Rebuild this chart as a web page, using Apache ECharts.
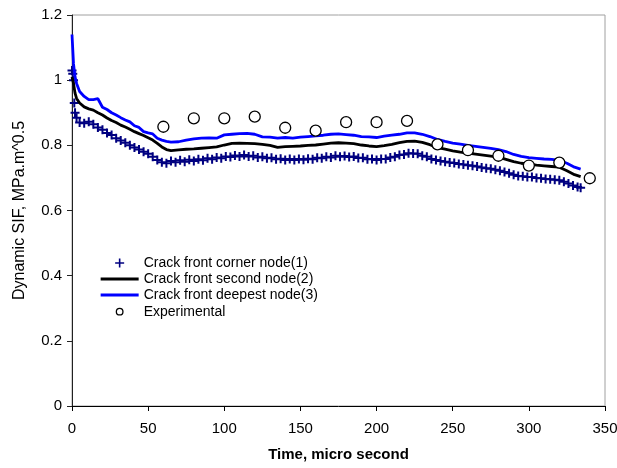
<!DOCTYPE html>
<html>
<head>
<meta charset="utf-8">
<script src="https://cdn.jsdelivr.net/npm/echarts@6/dist/echarts.min.js"></script>
<style>
  html, body { margin: 0; padding: 0; background: #fff; }
  #chart { width: 617px; height: 468px; }
</style>
</head>
<body>
<div id="chart"></div>
<script>
// corner node (1), plus markers
const timeCorner = [0, 0.5, 1, 1.5, 2, 3, 5, 8, 11, 14, 17, 20, 23, 26, 29, 32, 35, 38, 41, 44, 47, 50, 53, 56, 59,
  62, 65, 68, 71, 74, 77, 80, 83, 86, 89, 92, 95, 98, 101, 104, 107, 110, 113, 116, 119, 122, 125, 128, 131, 134,
  137, 140, 143, 146, 149, 152, 155, 158, 161, 164, 167, 170, 173, 176, 179, 182, 185, 188, 191, 194, 197, 200,
  203, 206, 209, 212, 215, 218, 221, 224, 227, 230, 233, 236, 239, 242, 245, 248, 251, 254, 257, 260, 263, 266,
  269, 272, 275, 278, 281, 284, 287, 290, 293, 296, 299, 302, 305, 308, 311, 314, 317, 320, 323, 326, 329, 332, 334]
const sifCorner = [1.03, 1.02, 1.0, 0.93, 0.90, 0.885, 0.87, 0.868, 0.872, 0.865, 0.855, 0.848, 0.838, 0.832, 0.822,
  0.815, 0.808, 0.800, 0.793, 0.787, 0.780, 0.774, 0.765, 0.755, 0.748,
  0.745, 0.752, 0.748, 0.754, 0.750, 0.756, 0.752, 0.757, 0.754, 0.760, 0.757, 0.763, 0.760, 0.766, 0.764, 0.769,
  0.766, 0.770, 0.766, 0.768, 0.763, 0.765, 0.760, 0.762, 0.757,
  0.759, 0.755, 0.758, 0.755, 0.758, 0.756, 0.759, 0.757, 0.762, 0.760, 0.765, 0.763, 0.768, 0.765, 0.767, 0.764,
  0.766, 0.761, 0.762, 0.757, 0.758, 0.755,
  0.758, 0.758, 0.763, 0.765, 0.770, 0.772, 0.776, 0.775, 0.774, 0.768, 0.765, 0.758, 0.755, 0.752, 0.750, 0.747,
  0.746, 0.743, 0.741, 0.739, 0.737, 0.735,
  0.732, 0.730, 0.728, 0.725, 0.722, 0.718, 0.714, 0.710, 0.706, 0.705, 0.703, 0.703, 0.700, 0.699, 0.697, 0.696,
  0.694, 0.693, 0.688, 0.683, 0.677, 0.672, 0.670]

// second node (2) and deepest node (3), lines
const timeLine = [0, 1, 2, 3, 5, 8, 11, 14, 17, 20, 23, 26, 29, 32, 35, 38, 41, 44, 47, 50, 53, 56, 59, 62, 65,
  70, 75, 80, 85, 90, 95, 100, 105, 110, 115, 120, 125, 130, 135, 140, 145, 150, 155, 160, 165, 170, 175, 180,
  185, 190, 195, 200, 205, 210, 215, 220, 225, 230, 235, 240, 245, 250, 255, 260, 265, 270, 275, 280, 285, 290,
  295, 300, 305, 310, 315, 320, 325, 330, 334]
const sifSecond = [1.01, 0.99, 0.96, 0.944, 0.93, 0.918, 0.912, 0.908, 0.9, 0.893, 0.884, 0.876, 0.87, 0.862, 0.856,
  0.849, 0.842, 0.836, 0.83, 0.823, 0.816, 0.806, 0.795, 0.787, 0.784,
  0.786, 0.788, 0.789, 0.791, 0.793, 0.795, 0.801, 0.806, 0.807, 0.806, 0.805, 0.803, 0.800, 0.794, 0.796, 0.797,
  0.798, 0.800, 0.801, 0.804, 0.807, 0.808, 0.807, 0.805, 0.801, 0.798, 0.796, 0.799, 0.803, 0.808, 0.812, 0.813,
  0.809, 0.802, 0.793, 0.788, 0.783, 0.779, 0.776, 0.773, 0.770, 0.767, 0.764, 0.757, 0.750, 0.745, 0.742, 0.739,
  0.737, 0.735, 0.733, 0.722, 0.710, 0.704]
const sifDeepest = [1.14, 1.05, 1.01, 0.99, 0.965, 0.95, 0.94, 0.94, 0.943, 0.917, 0.91, 0.90, 0.893, 0.885, 0.878,
  0.872, 0.86, 0.855, 0.842, 0.838, 0.835, 0.822, 0.816, 0.812, 0.810,
  0.811, 0.816, 0.820, 0.822, 0.823, 0.822, 0.832, 0.834, 0.836, 0.837, 0.834, 0.826, 0.825, 0.822, 0.824, 0.822,
  0.825, 0.827, 0.829, 0.831, 0.834, 0.835, 0.833, 0.831, 0.827, 0.826, 0.824, 0.828, 0.831, 0.834, 0.838, 0.838,
  0.834, 0.827, 0.818, 0.812, 0.807, 0.804, 0.800, 0.797, 0.794, 0.791, 0.787, 0.781, 0.772, 0.766, 0.762, 0.760,
  0.758, 0.757, 0.754, 0.745, 0.733, 0.727]

// experimental
const timeExp = [60, 80, 100, 120, 140, 160, 180, 200, 220, 240, 260, 280, 300, 320, 340]
const sifExp = [0.857, 0.883, 0.883, 0.888, 0.854, 0.845, 0.871, 0.871, 0.875, 0.803, 0.785, 0.768, 0.738, 0.747, 0.699]

const seriesNames = ['Crack front corner node(1)', 'Crack front second node(2)', 'Crack front deepest node(3)', 'Experimental']

const pair = (ts, vs) => ts.map((t, i) => [t, vs[i]])

const font = 'Liberation Sans, Arial, sans-serif'
const plusSymbol = 'path://M0,3.5H9V5.5H0ZM3.5,0H5.5V9H3.5Z'

let myChart = echarts.init(document.getElementById('chart'), null, { renderer: 'canvas' })

myChart.setOption({
  animation: false,
  textStyle: { fontFamily: font },
  grid: {
    left: 72, right: 12, top: 15, bottom: 62,
    containLabel: false,
    outerBoundsMode: 'none',
    show: true, borderColor: '#a0a0a0', borderWidth: 1
  },
  legend: {
    orient: 'vertical',
    left: 100,
    top: 256,
    itemWidth: 38,
    itemHeight: 14,
    itemGap: 2,
    padding: 0,
    textStyle: { fontSize: 14, color: '#000', fontFamily: font },
    data: [
      { name: seriesNames[0], icon: 'path://M0,0M38,14M14.5,6.2H23.5V7.8H14.5ZM18.2,2.5H19.8V11.5H18.2Z',
        itemStyle: { color: '#000080', borderWidth: 0 } },
      { name: seriesNames[1], icon: 'path://M0,0H38V3H0Z', itemStyle: { color: '#000', borderWidth: 0 } },
      { name: seriesNames[2], icon: 'path://M0,0H38V3H0Z', itemStyle: { color: '#0000ff', borderWidth: 0 } },
      { name: seriesNames[3], icon: 'path://M0,0M38,14M22.3,7A3.3,3.3,0,1,1,15.7,7A3.3,3.3,0,1,1,22.3,7Z',
        itemStyle: { color: '#fff', borderColor: '#000', borderWidth: 1.3 } }
    ]
  },
  xAxis: {
    type: 'value',
    min: 0, max: 350, interval: 50,
    name: 'Time, micro second',
    nameLocation: 'middle',
    nameGap: 41,
    nameTextStyle: { fontSize: 15, fontWeight: 'bold', color: '#000', fontFamily: font },
    axisLine: { show: true, onZero: false, lineStyle: { color: '#000', width: 1 } },
    axisTick: { show: true, inside: false, length: 5, lineStyle: { color: '#000' } },
    axisLabel: { fontSize: 15, color: '#000', margin: 15, fontFamily: font },
    splitLine: { show: false }
  },
  yAxis: {
    type: 'value',
    min: 0, max: 1.2, interval: 0.2,
    name: 'Dynamic SIF, MPa.m^0.5',
    nameLocation: 'middle',
    nameGap: 44,
    nameTextStyle: { fontSize: 16, color: '#000', fontFamily: font },
    axisLine: { show: true, lineStyle: { color: '#222', width: 1 } },
    axisTick: { show: true, inside: false, length: 5, lineStyle: { color: '#222' } },
    axisLabel: { fontSize: 15, color: '#000', margin: 10, fontFamily: font },
    splitLine: { show: false }
  },
  series: [
    {
      name: seriesNames[0],
      type: 'scatter',
      data: pair(timeCorner, sifCorner),
      symbol: plusSymbol,
      symbolSize: 9,
      itemStyle: { color: '#000080', opacity: 1 },
      z: 2
    },
    {
      name: seriesNames[1],
      type: 'line',
      data: pair(timeLine, sifSecond),
      showSymbol: false,
      symbol: 'none',
      lineStyle: { color: '#000', width: 2.8 },
      itemStyle: { color: '#000' },
      z: 3
    },
    {
      name: seriesNames[2],
      type: 'line',
      data: pair(timeLine, sifDeepest),
      showSymbol: false,
      symbol: 'none',
      lineStyle: { color: '#0000ff', width: 2.8 },
      itemStyle: { color: '#0000ff' },
      z: 4
    },
    {
      name: seriesNames[3],
      type: 'scatter',
      data: pair(timeExp, sifExp),
      symbol: 'circle',
      symbolSize: 11,
      itemStyle: { color: '#fff', borderColor: '#000', borderWidth: 1.3, opacity: 1 },
      z: 5
    }
  ]
})
</script>
</body>
</html>
